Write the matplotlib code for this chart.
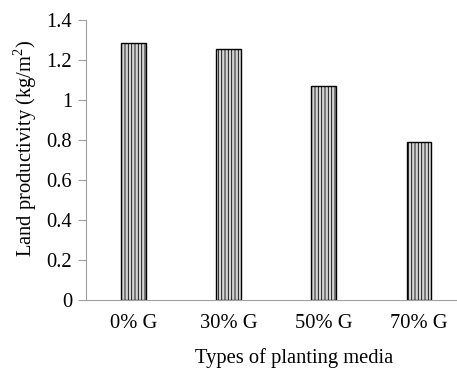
import matplotlib
matplotlib.use("Agg")
import matplotlib.pyplot as plt

# data
media = ["0% G", "30% G", "50% G", "70% G"]
productivity = [1.285, 1.253, 1.067, 0.788]

plt.rcParams["font.family"] = "Liberation Serif"
plt.rcParams["mathtext.fontset"] = "custom"
plt.rcParams["mathtext.rm"] = "Liberation Serif"
plt.rcParams["hatch.color"] = "#8a8a8a"
plt.rcParams["hatch.linewidth"] = 0.6

fig = plt.figure(figsize=(4.57, 3.68), dpi=100)
ax = fig.add_axes([0.188, 0.185, 0.812, 0.761])

x = range(len(media))
ax.bar(x, productivity, width=0.26, color="#d4d4d4", edgecolor="black",
       linewidth=1.0, hatch="|||||")

ax.set_xlim(-0.5, 3.4)
ax.set_ylim(0, 1.4)
ax.set_yticks([0, 0.2, 0.4, 0.6, 0.8, 1.0, 1.2, 1.4])
ax.set_yticklabels(["0", "0.2", "0.4", "0.6", "0.8", "1", "1.2", "1.4"])
ax.set_xticks(list(x))
ax.set_xticklabels(media)

fs = 14.8
for s in ["top", "right"]:
    ax.spines[s].set_visible(False)
ax.spines["left"].set_color("#a0a0a0")
ax.spines["bottom"].set_color("#a0a0a0")
ax.tick_params(axis="y", length=6, color="#a0a0a0", labelsize=fs, pad=4)
ax.tick_params(axis="x", length=0, labelsize=fs, pad=10)

ax.set_ylabel("Land productivity (kg/m$^\\mathrm{2}$)", fontsize=fs)
ax.set_xlabel("Types of planting media", fontsize=fs)
ax.yaxis.set_label_coords(-0.126, 0.54)
ax.xaxis.set_label_coords(0.56, -0.172)

fig.savefig("out.png", dpi=100)
